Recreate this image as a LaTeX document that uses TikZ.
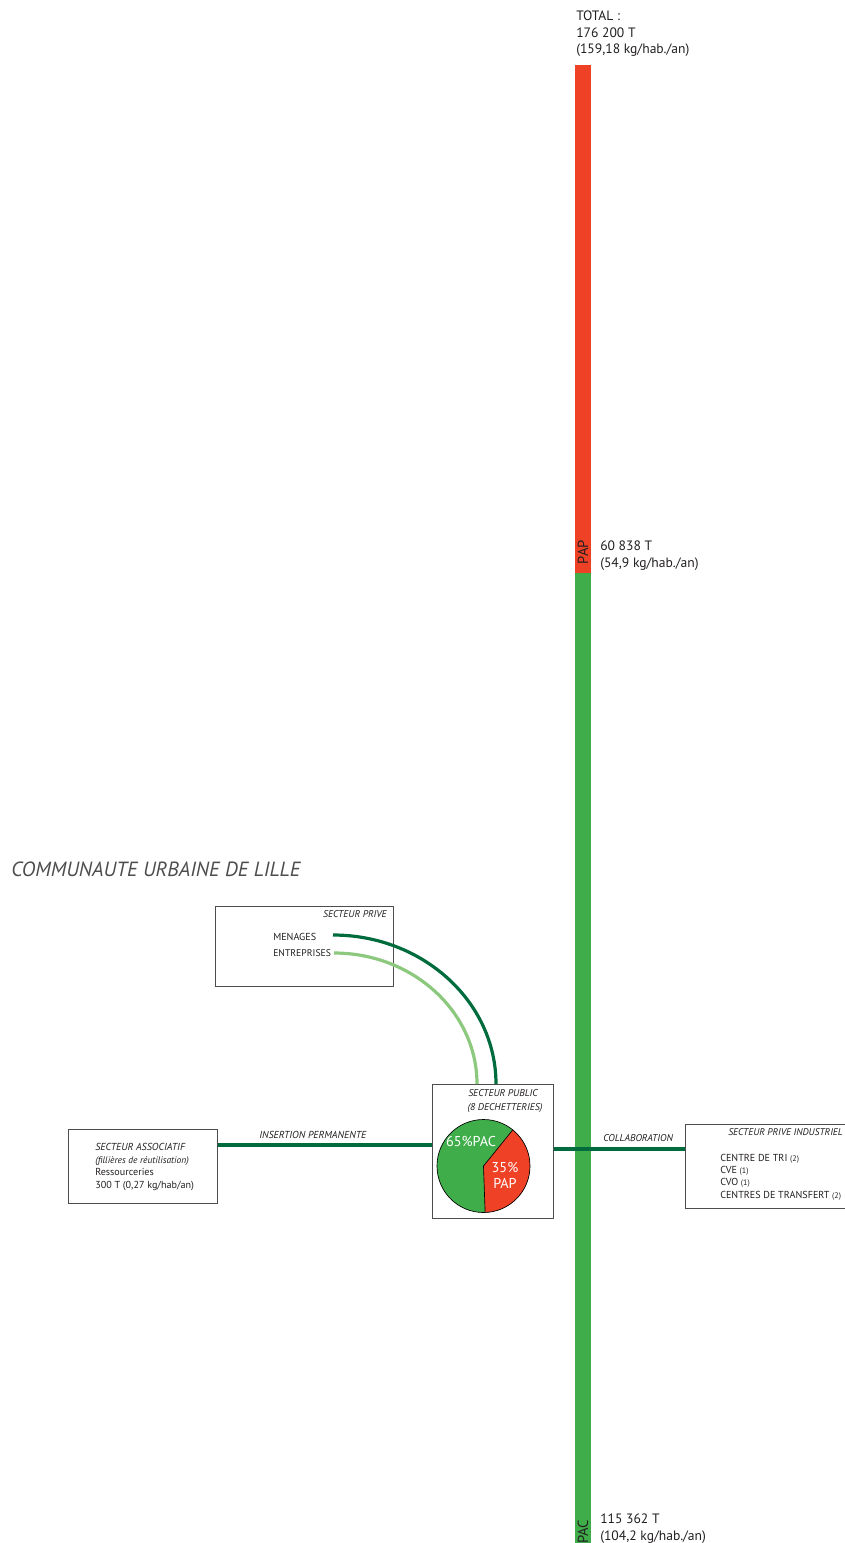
\documentclass[tikz,border=0pt]{standalone}
\usepackage{fontspec}
\setmainfont{PT Sans}
\usetikzlibrary{calc}
\definecolor{barred}{HTML}{EF4126}
\definecolor{bargreen}{HTML}{3FAE4A}
\definecolor{darklink}{HTML}{006B3C}
\definecolor{lightlink}{HTML}{8CC97E}
\definecolor{ink}{HTML}{231F20}
\definecolor{titleink}{HTML}{4D4D4D}
\definecolor{frame}{HTML}{4D4D4D}
\newcommand\cnt[1]{{\fontsize{6}{7}\selectfont #1}}
\begin{document}
\begin{tikzpicture}[x=0.75pt,y=-0.75pt,
  big/.style={inner sep=0, anchor=base west, text=ink, font=\fontsize{10.2}{12}\selectfont},
  txt/.style={inner sep=0, anchor=base west, text=ink, font=\fontsize{7.6}{9}\selectfont},
  tag/.style={inner sep=0, anchor=base west, text=ink, font=\fontsize{7.4}{9}\selectfont\itshape},
  pielbl/.style={inner sep=0, anchor=base, text=white, font=\fontsize{10.7}{12}\selectfont},
  barlbl/.style={inner sep=0, rotate=90, text=ink, font=\fontsize{11}{12}\selectfont},
  panel/.style={draw=frame, line width=0.8pt, inner sep=0, anchor=north west},
  link/.style={draw=darklink, line width=2.4pt},
  softlink/.style={draw=lightlink, line width=2.4pt},
]
\useasboundingbox (0,0) rectangle (845,1543);

% stacked total bar: PAP (red) over PAC (green)
\fill[barred] (575,65) rectangle (591,573);
\fill[bargreen] (575,573) rectangle (591,1543);
\node[barlbl] (barpap) at (583,552) {PAP};
\node[barlbl] (barpac) at (583,1532) {PAC};

% figures beside the bar
\node[big] (tot1) at (576,20.5) {TOTAL :};
\node[big] (tot2) at (576,37) {176 200 T};
\node[big] (tot3) at (576,53) {(159,18 kg/hab./an)};
\node[big] (pap1) at (600,550) {60 838 T};
\node[big] (pap2) at (600,567) {(54,9 kg/hab./an)};
\node[big] (pac1) at (600,1523) {115 362 T};
\node[big] (pac2) at (600,1540) {(104,2 kg/hab./an)};

% title
\node[inner sep=0, anchor=base west, text=titleink, font=\fontsize{15.4}{17}\selectfont\itshape] (title) at (11,876) {COMMUNAUTE URBAINE DE LILLE};

% private sector
\node[panel, minimum width=133.5pt, minimum height=60pt] (prive) at (215,906) {};
\node[tag, anchor=base east] (privetag) at (387,917.7) {SECTEUR PRIVE};
\node[txt] (menages) at (273,940.7) {MENAGES};
\node[txt, font=\fontsize{7.3}{9}\selectfont] (entreprises) at (273,956.7) {ENTREPRISES};

% public sector with its pie chart
\node[panel, minimum width=90.75pt, minimum height=100.5pt] (public) at (432,1084) {};
\node[tag, anchor=base] (pubtag1) at (503,1096.7) {SECTEUR PUBLIC};
\node[tag, anchor=base] (pubtag2) at (505,1110) {(8 DECHETTERIES)};
\coordinate (pie) at (483.5,1166);
\fill[bargreen] (pie) circle[radius=46.5];
\fill[barred] (pie) -- ++(88:46.5) arc[start angle=88, end angle=-51, radius=46.5] -- cycle;
\draw[black, line width=0.5pt] (pie) circle[radius=46.5];
\draw[black, line width=0.5pt] ($(pie)+(88:46.5)$) -- (pie) -- ($(pie)+(-51:46.5)$);
\node[pielbl] (pac) at (471,1146.7) {65\%PAC};
\node[pielbl] (pap35) at (505,1172) {35\%};
\node[pielbl] (pap) at (505,1188) {PAP};

% associative sector
\node[panel, minimum width=111.75pt, minimum height=55.5pt] (assoc) at (68,1129) {};
\node[tag, font=\fontsize{7.6}{9}\selectfont\itshape] (assoc1) at (95,1150) {SECTEUR ASSOCIATIF};
\node[tag, font=\fontsize{7.1}{9}\selectfont\itshape] (assoc2) at (95,1163) {(fillières de réutilisation)};
\node[txt] (assoc3) at (95,1175.5) {Ressourceries};
\node[txt] (assoc4) at (95,1188) {300 T (0,27 kg/hab/an)};

% private industrial sector
\node[panel, minimum width=126pt, minimum height=63pt] (indus) at (685,1124) {};
\node[tag, font=\fontsize{7.3}{9}\selectfont\itshape] (industag) at (728,1135) {SECTEUR PRIVE INDUSTRIEL};
\node[txt] (ind1) at (720,1161) {CENTRE DE TRI \cnt{(2)}};
\node[txt] (ind2) at (720,1173.3) {CVE \cnt{(1)}};
\node[txt] (ind3) at (720,1185.6) {CVO \cnt{(1)}};
\node[txt] (ind4) at (720,1198) {CENTRES DE TRANSFERT \cnt{(2)}};

% connectors
\coordinate (m0) at (333,935);
\coordinate (e0) at (334,953);
\coordinate (ins) at (0,1145);
\coordinate (col) at (0,1149);
\draw[softlink] (e0) .. controls +(79,0) and +(0,-72) .. ($(public.north west)+(45,0)$);
\draw[link] (m0) .. controls +(90,0) and +(0,-82) .. ($(public.north west)+(64,0)$);

\draw[link] (assoc.east |- ins) -- (public.west |- ins);
\node[tag, font=\fontsize{7.6}{9}\selectfont\itshape] (insertion) at (259,1138.3) {INSERTION PERMANENTE};

\draw[link] (public.east |- col) -- (indus.west |- col);
\node[tag] (collab) at (603,1141) {COLLABORATION};
\end{tikzpicture}
\end{document}
